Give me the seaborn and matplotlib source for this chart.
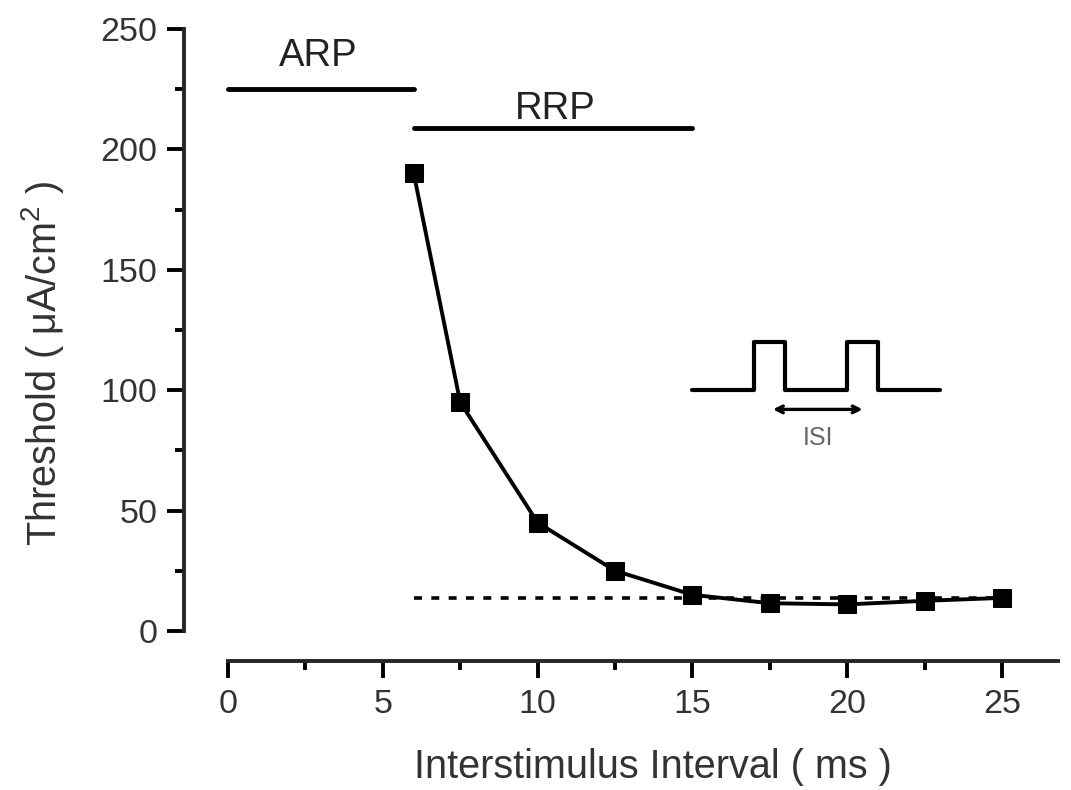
import matplotlib
matplotlib.use('Agg')
import matplotlib.pyplot as plt
import seaborn as sns
import pandas as pd
from matplotlib.ticker import MultipleLocator

sns.set_style('ticks')
plt.rcParams['font.family'] = ['Liberation Sans', 'DejaVu Sans']
plt.rcParams['mathtext.default'] = 'regular'

# data
isi = [6, 7.5, 10, 12.5, 15, 17.5, 20, 22.5, 25]
threshold = [190, 95, 45, 25, 15, 11.5, 11, 12.5, 13.7]
baseline = 13.7
arp_span = [0, 6]
arp_level = 225
rrp_span = [6, 15]
rrp_level = 209

# pulse inset (in data units)
pulse_x = [15, 17, 17, 18, 18, 20, 20, 21, 21, 23]
pulse_y = [100, 100, 120, 120, 100, 100, 120, 120, 100, 100]
isi_arrow = [17.6, 20.5]
isi_arrow_y = 92

df = pd.DataFrame({'isi': isi, 'threshold': threshold})

fig = plt.figure(figsize=(10.71, 7.9), dpi=100)
ax = fig.add_axes([0.1718, 0.1633, 0.8158, 0.80])

ax.plot([isi[0], isi[-1]], [baseline, baseline], color='black', lw=2.6,
        dashes=(2.2, 2.6))
sns.lineplot(data=df, x='isi', y='threshold', ax=ax, color='black', lw=2.8,
             marker='s', markersize=13, markeredgecolor='black')

ax.plot(arp_span, [arp_level] * 2, color='black', lw=3.5)
ax.plot(rrp_span, [rrp_level] * 2, color='black', lw=3.5)
ax.text(2.9, 234.5, 'ARP', ha='center', va='baseline', fontsize=27.5, color='#222222')
ax.text(10.58, 212.5, 'RRP', ha='center', va='baseline', fontsize=27.5, color='#222222')

ax.plot(pulse_x, pulse_y, color='black', lw=3)
ax.annotate('', xy=(isi_arrow[1], isi_arrow_y), xytext=(isi_arrow[0], isi_arrow_y),
            arrowprops=dict(arrowstyle='<->', color='black', lw=2.4,
                            mutation_scale=12, shrinkA=0, shrinkB=0))
ax.text(19.05, 80, 'ISI', ha='center', va='center', fontsize=18, color='#666666')

ax.set_xlim(-1.42, 26.8)
ax.set_ylim(-12.5, 250)
ax.set_xticks([0, 5, 10, 15, 20, 25])
ax.set_yticks([0, 50, 100, 150, 200, 250])
ax.xaxis.set_minor_locator(MultipleLocator(2.5))
ax.yaxis.set_minor_locator(MultipleLocator(25))

for s in ['top', 'right']:
    ax.spines[s].set_visible(False)
ax.spines['left'].set_bounds(0, 250)
ax.spines['bottom'].set_bounds(0, 26.8)
ax.spines['left'].set_linewidth(2.8)
ax.spines['bottom'].set_linewidth(2.8)
ax.tick_params(which='major', length=12, width=2.8, labelsize=24.5, pad=7,
               colors='black', labelcolor='#333333')
ax.tick_params(which='minor', length=6.5, width=2.8, colors='black')
ax.tick_params(axis='x', which='major', pad=8)

ax.set_xlabel('Interstimulus Interval ( ms )', fontsize=28.5, color='#333333')
ax.set_ylabel('Threshold ( μA/cm$^2$ )', fontsize=28.5, color='#333333')
ax.xaxis.set_label_coords(0.537, -0.138)
ax.yaxis.set_label_coords(-0.135, 0.4715)

fig.savefig('out.png', dpi=100)
